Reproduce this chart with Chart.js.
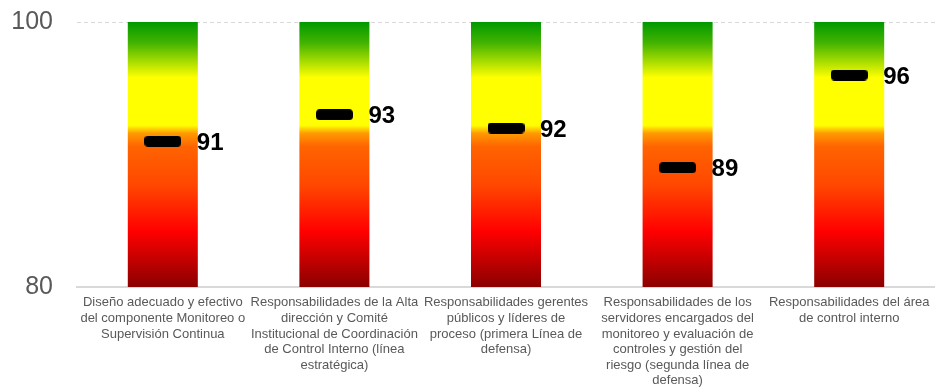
<!DOCTYPE html>
<html>
<head>
<meta charset="utf-8">
<script src="https://cdn.jsdelivr.net/npm/chart.js@4"></script>
<style>
  html, body { margin: 0; padding: 0; background: #ffffff; }
  #wrap { width: 935px; height: 388px; }
</style>
</head>
<body>
<div id="wrap"><canvas id="chart"></canvas></div>
<script>
// Category labels, one array of lines per category
const categories = [
  ["Diseño adecuado y efectivo", "del componente Monitoreo o", "Supervisión Continua"],
  ["Responsabilidades de la Alta", "dirección y Comité", "Institucional de Coordinación", "de Control Interno (línea", "estratégica)"],
  ["Responsabilidades gerentes", "públicos y líderes de", "proceso (primera Línea de", "defensa)"],
  ["Responsabilidades de los", "servidores encargados del", "monitoreo y evaluación de", "controles y gestión del", "riesgo (segunda línea de", "defensa)"],
  ["Responsabilidades del área", "de control interno"]
];

// Scores per category
const scores = [91, 93, 92, 89, 96];

// Scale range and the ticks that are labelled
const scaleMin = 80;
const scaleMax = 100;
const tickValues = [80, 100];

// Background band spanning the full scale for every category
const bands = categories.map(() => [scaleMin, scaleMax]);

// Rounded black marker used as the point style
function makeMarker(w, h, r) {
  const c = document.createElement('canvas');
  c.width = w; c.height = h;
  const g = c.getContext('2d');
  g.fillStyle = '#000000';
  g.beginPath();
  g.moveTo(r, 0);
  g.lineTo(w - r, 0);
  g.quadraticCurveTo(w, 0, w, r);
  g.lineTo(w, h - r);
  g.quadraticCurveTo(w, h, w - r, h);
  g.lineTo(r, h);
  g.quadraticCurveTo(0, h, 0, h - r);
  g.lineTo(0, r);
  g.quadraticCurveTo(0, 0, r, 0);
  g.closePath();
  g.fill();
  return c;
}
const marker = makeMarker(37, 11, 4);

// Green → yellow → orange → red → dark red gradient over the plot height
function bandGradient(ctx) {
  const chart = ctx.chart;
  const area = chart.chartArea;
  if (!area) return '#ffff00';
  const g = chart.ctx.createLinearGradient(0, area.top, 0, area.bottom);
  g.addColorStop(0.00, '#009900');
  g.addColorStop(0.08, '#44b400');
  g.addColorStop(0.21, '#ffff00');
  g.addColorStop(0.39, '#ffff00');
  g.addColorStop(0.42, '#ff9a00');
  g.addColorStop(0.47, '#ff6400');
  g.addColorStop(0.62, '#ff4600');
  g.addColorStop(0.79, '#ff0000');
  g.addColorStop(1.00, '#8b0000');
  return g;
}

// Value labels to the right of each marker
const valueLabels = {
  id: 'valueLabels',
  afterDatasetsDraw(chart) {
    const meta = chart.getDatasetMeta(1);
    const c = chart.ctx;
    c.save();
    c.font = 'bold 24px "Liberation Sans", Arial, sans-serif';
    c.fillStyle = '#000000';
    c.textAlign = 'left';
    c.textBaseline = 'middle';
    meta.data.forEach((pt, i) => {
      c.fillText(String(scores[i]), pt.x + 34, pt.y + 2);
    });
    c.restore();
  }
};

const fontFamily = '"Liberation Sans", Arial, sans-serif';

new Chart(document.getElementById('chart'), {
  data: {
    labels: categories,
    datasets: [
      {
        type: 'bar',
        data: bands,
        backgroundColor: bandGradient,
        borderWidth: 0,
        grouped: false,
        categoryPercentage: 1,
        barPercentage: 0.408,
        order: 2
      },
      {
        type: 'line',
        data: scores,
        showLine: false,
        pointStyle: marker,
        pointRadius: 6,
        pointHoverRadius: 6,
        clip: false,
        order: 1
      }
    ]
  },
  options: {
    responsive: true,
    maintainAspectRatio: false,
    animation: false,
    events: [],
    layout: { autoPadding: false, padding: { top: 22, right: 0, left: 11, bottom: 0 } },
    plugins: {
      legend: { display: false },
      tooltip: { enabled: false }
    },
    scales: {
      x: {
        grid: { display: false, drawTicks: false },
        border: { display: true, color: '#d9d9d9', width: 2 },
        ticks: {
          color: '#595959',
          font: { family: fontFamily, size: 13, lineHeight: 1.2 },
          padding: 8,
          maxRotation: 0,
          minRotation: 0,
          autoSkip: false
        },
        afterFit(scale) {
          scale.height = 101;
          scale.paddingLeft = 0;
          scale.paddingRight = 0;
        }
      },
      y: {
        min: scaleMin,
        max: scaleMax,
        afterBuildTicks(scale) {
          scale.ticks = tickValues.map(v => ({ value: v }));
        },
        grid: {
          drawTicks: false,
          color: (ctx) => (ctx.tick && ctx.tick.value === scaleMax) ? '#d9d9d9' : 'rgba(0,0,0,0)',
          lineWidth: 1
        },
        border: { display: false, dash: [4, 3] },
        ticks: {
          color: '#595959',
          font: { family: fontFamily, size: 25 },
          padding: 24
        },
        afterFit(scale) {
          scale.width = 66;
          scale.paddingTop = 0;
          scale.paddingBottom = 0;
        }
      }
    }
  },
  plugins: [valueLabels]
});
</script>
</body>
</html>
